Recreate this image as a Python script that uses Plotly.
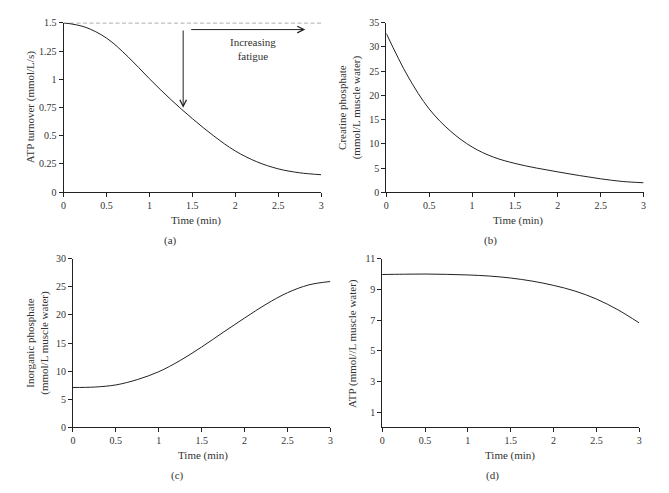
import plotly.graph_objects as go

W, H = 669, 493
OFF = 8  # page body margin offset of the rendered figure

# ---------------- data ----------------
time_a = [0, 0.25, 0.5, 0.75, 1.0, 1.25, 1.5, 1.75, 2.0, 2.25, 2.5, 2.75, 3.0]
atp_turnover = [1.5, 1.462, 1.365, 1.200, 1.005, 0.82, 0.652, 0.498, 0.365, 0.27, 0.207, 0.172, 0.155]
ref_line_x = [0, 3]
ref_line_y = [1.5, 1.5]

time_b = [0, 0.25, 0.5, 0.75, 1.0, 1.25, 1.5, 1.75, 2.0, 2.25, 2.5, 2.75, 3.0]
creatine_phosphate = [32.8, 24.0, 17.2, 12.6, 9.35, 7.25, 5.95, 5.0, 4.2, 3.45, 2.77, 2.23, 1.96]

time_c = [0, 0.25, 0.5, 0.75, 1.0, 1.25, 1.5, 1.75, 2.0, 2.25, 2.5, 2.75, 3.0]
inorganic_phosphate = [7.1, 7.17, 7.55, 8.5, 9.9, 11.9, 14.3, 16.9, 19.45, 21.9, 23.95, 25.35, 25.95]

time_d = [0, 0.25, 0.5, 0.75, 1.0, 1.25, 1.5, 1.75, 2.0, 2.25, 2.5, 2.75, 3.0]
atp_conc = [9.97, 9.99, 10.0, 9.98, 9.94, 9.87, 9.74, 9.54, 9.26, 8.89, 8.37, 7.67, 6.81]

x_ticks = [0, 0.5, 1, 1.5, 2, 2.5, 3]
y_ticks_a = [0, 0.25, 0.5, 0.75, 1, 1.25, 1.5]
y_ticks_b = [0, 5, 10, 15, 20, 25, 30, 35]
y_ticks_c = [0, 5, 10, 15, 20, 25, 30]
y_ticks_d = [1, 3, 5, 7, 9, 11]

# ---------------- styling ----------------
FONT = "Liberation Serif"
LINE = "#222222"
TXT = "#333333"

def px(xp):
    return (xp - OFF) / W

def py(yp):
    return 1 - (yp - OFF) / H

fig = go.Figure()

curve = dict(mode="lines", line=dict(color=LINE, width=1, shape="spline", smoothing=1.0),
             showlegend=False, hoverinfo="skip")

fig.add_trace(go.Scatter(x=ref_line_x, y=ref_line_y, mode="lines",
                         line=dict(color="#555555", width=1, dash="4px,2.5px"),
                         showlegend=False, hoverinfo="skip", xaxis="x", yaxis="y"))
fig.add_trace(go.Scatter(x=time_a, y=atp_turnover, xaxis="x", yaxis="y", **curve))
fig.add_trace(go.Scatter(x=time_b, y=creatine_phosphate, xaxis="x2", yaxis="y2", **curve))
fig.add_trace(go.Scatter(x=time_c, y=inorganic_phosphate, xaxis="x3", yaxis="y3", **curve))
fig.add_trace(go.Scatter(x=time_d, y=atp_conc, xaxis="x4", yaxis="y4", **curve))

def xax(domain, anchor):
    return dict(domain=domain, anchor=anchor, range=[0, 3], tickvals=x_ticks,
                showline=True, linecolor=LINE, linewidth=1, ticks="outside",
                ticklen=4, tickcolor=LINE, showgrid=False, zeroline=False,
                tickfont=dict(family=FONT, size=10, color=TXT), fixedrange=True)

def yax(domain, anchor, rng, tv):
    return dict(domain=domain, anchor=anchor, range=rng, tickvals=tv,
                showline=True, linecolor=LINE, linewidth=1, ticks="outside",
                ticklen=4, tickcolor=LINE, showgrid=False, zeroline=False,
                tickfont=dict(family=FONT, size=10, color=TXT), fixedrange=True)

dom_a_x = [px(61), px(321)]
dom_b_x = [px(386.7), px(646.3)]
dom_c_x = [px(70.5), px(330.3)]
dom_d_x = [px(382.5), px(642)]
dom_top_y = [py(190.3), py(17)]
dom_bot_y = [py(430.8), py(258.3)]

annotations = []

def label(x, y, text, angle=0, size=11):
    annotations.append(dict(x=px(x), y=py(y), xref="paper", yref="paper", text=text,
                            showarrow=False, textangle=angle, xanchor="center", yanchor="middle",
                            font=dict(family=FONT, size=size, color=TXT)))

# x titles
label(195, 219, "Time (min)")
label(520, 219, "Time (min)")
label(202, 460, "Time (min)")
label(512, 460, "Time (min)")
# panel labels
label(169, 240, "(a)")
label(492, 240, "(b)")
label(176, 480, "(c)")
label(494, 480, "(d)")
# y titles
label(28, 103.5, "ATP turnover (mmol/L/s)", angle=-90)
label(349, 103.5, "Creatine phosphate<br>(mmol/L muscle water)", angle=-90)
label(35, 344.5, "Inorganic phosphate<br>(mmol/L muscle water)", angle=-90)
label(353, 344.5, "ATP (mmol//L muscle water)", angle=-90)

# arrows in panel (a)
annotations.append(dict(x=1.393, y=0.747, ax=1.393, ay=1.445, xref="x", yref="y", axref="x", ayref="y",
                        text="", showarrow=True, arrowhead=5, arrowsize=1.3, arrowwidth=1, arrowcolor=LINE))
annotations.append(dict(x=2.815, y=1.44, ax=1.469, ay=1.44, xref="x", yref="y", axref="x", ayref="y",
                        text="", showarrow=True, arrowhead=5, arrowsize=1.3, arrowwidth=1, arrowcolor=LINE))
annotations.append(dict(x=2.207, y=1.272, xref="x", yref="y", text="Increasing<br>fatigue",
                        showarrow=False, xanchor="center", yanchor="middle",
                        font=dict(family=FONT, size=11, color=TXT)))

fig.update_layout(
    width=W, height=H,
    margin=dict(l=0, r=0, t=0, b=0),
    paper_bgcolor="white", plot_bgcolor="white",
    font=dict(family=FONT, size=11, color=TXT),
    xaxis=xax(dom_a_x, "y"), yaxis=yax(dom_top_y, "x", [0, 1.5], y_ticks_a),
    xaxis2=xax(dom_b_x, "y2"), yaxis2=yax(dom_top_y, "x2", [0, 35], y_ticks_b),
    xaxis3=xax(dom_c_x, "y3"), yaxis3=yax(dom_bot_y, "x3", [0, 30], y_ticks_c),
    xaxis4=xax(dom_d_x, "y4"), yaxis4=yax(dom_bot_y, "x4", [0, 11], y_ticks_d),
    annotations=annotations,
    showlegend=False,
)

fig.write_html("out.html")
